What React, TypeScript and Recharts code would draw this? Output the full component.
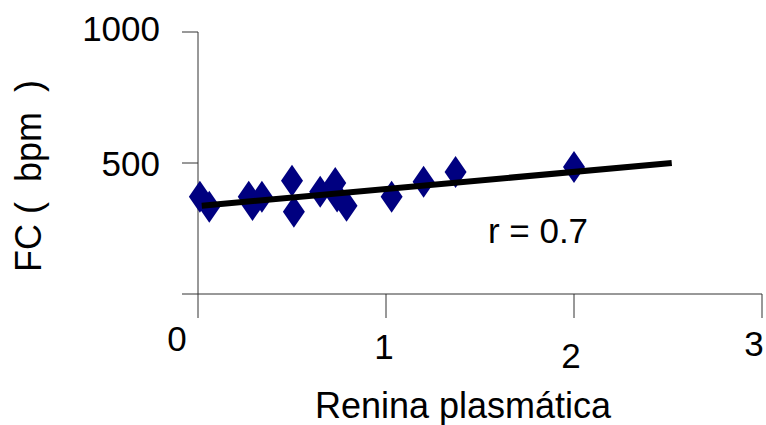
import { ScatterChart, Scatter, XAxis, YAxis } from 'recharts';

// renina plasmática vs FC (bpm)
const renina = [0.01, 0.06, 0.27, 0.29, 0.34, 0.5, 0.51, 0.65, 0.73, 0.74, 0.79, 1.03, 1.2, 1.37, 2.0];
const fc = [371, 333, 371, 340, 371, 432, 314, 390, 424, 372, 337, 371, 428, 466, 485];

// regression line ends
const trendX = [0.02, 2.52];
const trendY = [337, 500];

const xTicks = [0, 1, 2, 3];
const yTicks = [0, 500, 1000];

const points = renina.map((x, i) => ({ x, y: fc[i] }));
const trend = trendX.map((x, i) => ({ x, y: trendY[i] }));

const FONT = '"Liberation Sans", Arial, sans-serif';

const Diamond = (props: any) => {
  const { cx, cy } = props;
  if (cx == null || cy == null) return null;
  return (
    <polygon
      points={`${cx},${cy - 16} ${cx + 11},${cy} ${cx},${cy + 16} ${cx - 11},${cy}`}
      fill="#000080"
    />
  );
};

// tick labels are a bit staggered in the original
const xOffsets = [
  { dx: -21, dy: 33 },
  { dx: -2, dy: 41 },
  { dx: -3, dy: 50 },
  { dx: -8, dy: 38 },
];

const XTick = (props: any) => {
  const { x, y, payload, index } = props;
  const o = xOffsets[index] || { dx: 0, dy: 35 };
  return (
    <text x={x + o.dx} y={y + o.dy} textAnchor="middle" fontSize={35} fontFamily={FONT} fill="#000">
      {payload.value}
    </text>
  );
};

const YTick = (props: any) => {
  const { x, y, payload } = props;
  if (payload.value === 0) return null;
  const dy = payload.value === 1000 ? 9 : 13;
  return (
    <text x={x - 22} y={y + dy} textAnchor="end" fontSize={35} fontFamily={FONT} fill="#000">
      {payload.value}
    </text>
  );
};

export default function App() {
  return (
    <div style={{ position: 'absolute', left: 0, top: 0, width: 766, height: 425, background: '#fff' }}>
      <ScatterChart width={766} height={425} margin={{ top: 32, right: 4, left: 0, bottom: 0 }}>
        <XAxis
          type="number"
          dataKey="x"
          domain={[0, 3]}
          ticks={xTicks}
          height={131}
          tickSize={24}
          tickMargin={0}
          stroke="#333"
          tick={<XTick />}
        />
        <YAxis
          type="number"
          dataKey="y"
          domain={[0, 1000]}
          ticks={yTicks}
          width={198}
          tickSize={16}
          tickMargin={0}
          stroke="#333"
          tick={<YTick />}
        />
        <Scatter data={points} shape={<Diamond />} isAnimationActive={false} />
        <Scatter
          data={trend}
          line={{ stroke: '#000', strokeWidth: 6 }}
          shape={() => null}
          isAnimationActive={false}
        />
        <text x={538} y={243} textAnchor="middle" fontSize={35} fontFamily={FONT} fill="#000">
          r = 0.7
        </text>
        <text x={463} y={418} textAnchor="middle" fontSize={36} fontFamily={FONT} fill="#000">
          Renina plasmática
        </text>
        <text
          x={41}
          y={176}
          textAnchor="middle"
          fontSize={36}
          fontFamily={FONT}
          fill="#000"
          transform="rotate(-90 41 176)"
        >
          {'FC (\u00a0\u00a0bpm\u00a0\u00a0)'}
        </text>
      </ScatterChart>
    </div>
  );
}
